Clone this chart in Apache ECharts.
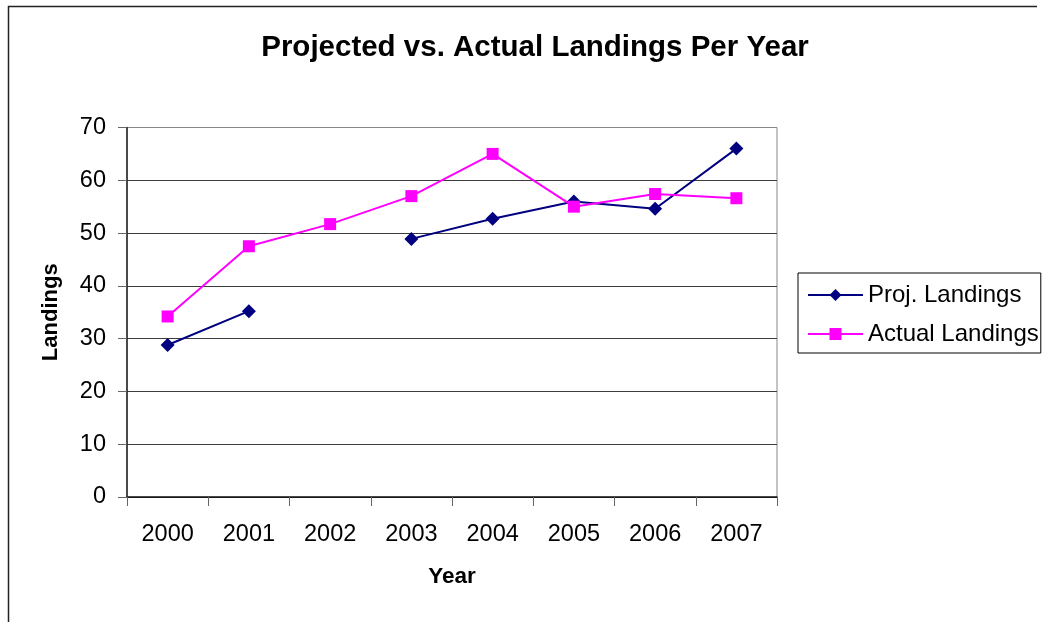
<!DOCTYPE html>
<html>
<head>
<meta charset="utf-8">
<script src="https://cdn.jsdelivr.net/npm/echarts@6/dist/echarts.min.js"></script>
<style>html,body{margin:0;padding:0;background:#fff;}#c{width:1047px;height:622px;}</style>
</head>
<body>
<div id="c"></div>
<script>
var categories = ['2000','2001','2002','2003','2004','2005','2006','2007'];
var projLandings = [28.8, 35.2, null, 48.9, 52.7, 56.0, 54.6, 66.0];
var actualLandings = [34.2, 47.5, 51.7, 57.0, 65.0, 55.0, 57.4, 56.6];
var yTicks = [0, 10, 20, 30, 40, 50, 60, 70];

var FONT = '"Liberation Sans", Arial, sans-serif';
var chart = echarts.init(document.getElementById('c'));
chart.setOption({
  animation: false,
  backgroundColor: '#fff',
  title: {
    text: 'Projected vs. Actual Landings Per Year',
    left: 530, textAlign: 'center', top: 28,
    textStyle: {fontFamily: FONT, fontSize: 29.5, fontWeight: 'bold', color: '#000'}
  },
  graphic: [{
    type: 'polyline', silent: true,
    shape: {points: [[8.5, 640], [8.5, 6.5], [1037, 6.5]]},
    style: {stroke: '#222', lineWidth: 1.5, fill: null}
  }],
  legend: {
    orient: 'vertical', left: 798, top: 273,
    padding: [10, 2, 7, 9], itemGap: 15,
    itemWidth: 55, itemHeight: 15,
    borderColor: '#000', borderWidth: 1,
    textStyle: {fontFamily: FONT, fontSize: 24, color: '#000', lineHeight: 22},
    data: ['Proj. Landings', 'Actual Landings']
  },
  grid: {left: 127, right: 270, top: 127.5, bottom: 125, show: true, borderColor: '#888', borderWidth: 1},
  xAxis: {
    type: 'category', data: categories, boundaryGap: true,
    name: 'Year', nameLocation: 'middle', nameGap: 68,
    nameTextStyle: {fontFamily: FONT, fontSize: 22.5, fontWeight: 'bold', color: '#000'},
    axisLine: {lineStyle: {color: '#222', width: 1.5}},
    axisTick: {show: true, length: 9, alignWithLabel: false, lineStyle: {color: '#666'}},
    axisLabel: {margin: 26, fontFamily: FONT, fontSize: 23.5, color: '#000'}
  },
  yAxis: {
    type: 'value', min: 0, max: 70, interval: 10,
    name: 'Landings', nameLocation: 'middle', nameGap: 65,
    nameTextStyle: {fontFamily: FONT, fontSize: 22, fontWeight: 'bold', color: '#000'},
    axisLine: {show: true, lineStyle: {color: '#222', width: 1.5}},
    axisTick: {show: true, length: 9, lineStyle: {color: '#666'}},
    axisLabel: {margin: 21, fontFamily: FONT, fontSize: 23.5, color: '#000',
      formatter: function (v) { return yTicks.indexOf(v) >= 0 ? String(v) : ''; }},
    splitLine: {show: true, lineStyle: {color: ['#000','#3c3c3c','#3c3c3c','#3c3c3c','#3c3c3c','#3c3c3c','#3c3c3c','#888'], width: 1}}
  },
  series: [{
    name: 'Proj. Landings', type: 'line', data: projLandings,
    symbol: 'diamond', symbolSize: [14, 14], connectNulls: false,
    itemStyle: {color: '#000080'}, lineStyle: {color: '#000080', width: 2}
  }, {
    name: 'Actual Landings', type: 'line', data: actualLandings,
    symbol: 'rect', symbolSize: [12, 12],
    itemStyle: {color: '#FF00FF'}, lineStyle: {color: '#FF00FF', width: 2}
  }]
});
</script>
</body>
</html>
